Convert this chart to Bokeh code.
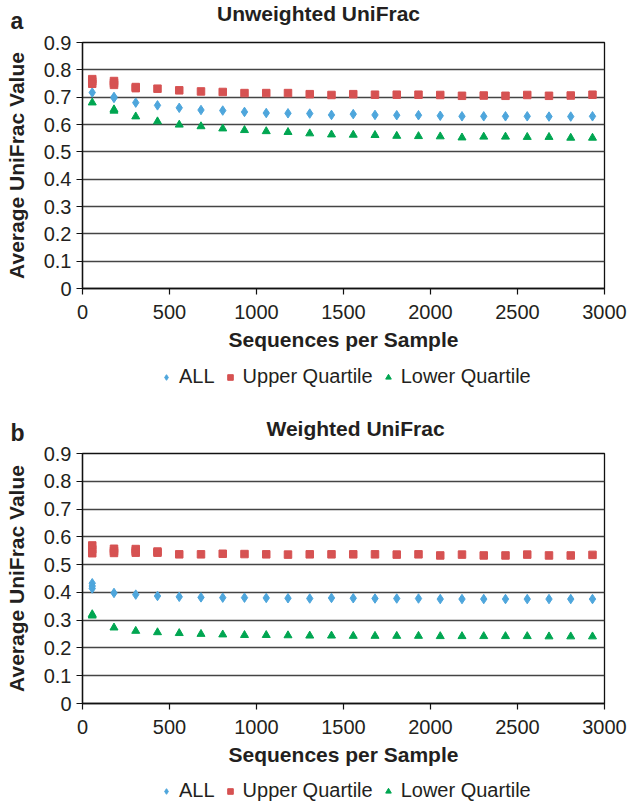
from bokeh.plotting import figure
from bokeh.models import FixedTicker, Legend, LegendItem, Label, Range1d
from bokeh.layouts import column
from bokeh.embed import file_html
from bokeh.resources import INLINE

# ---------------- data ----------------
seq_per_sample = [56, 181, 306, 431, 556, 681, 806, 931, 1056, 1181, 1306, 1431,
                  1556, 1681, 1806, 1931, 2056, 2181, 2306, 2431, 2556, 2681, 2806, 2931]

x_ticks = [0, 500, 1000, 1500, 2000, 2500, 3000]
y_ticks = [0, 0.1, 0.2, 0.3, 0.4, 0.5, 0.6, 0.7, 0.8, 0.9]
y_tick_labels = ["0", "0.1", "0.2", "0.3", "0.4", "0.5", "0.6", "0.7", "0.8", "0.9"]

series_names = ["ALL", "Upper Quartile", "Lower Quartile"]

# Panel a: Unweighted UniFrac
unw_all = [0.717, 0.701, 0.680, 0.670, 0.661, 0.653, 0.651, 0.646, 0.642, 0.641, 0.640, 0.635,
           0.638, 0.635, 0.634, 0.634, 0.632, 0.630, 0.630, 0.630, 0.630, 0.629, 0.629, 0.630]
unw_upper = [0.758, 0.752, 0.733, 0.731, 0.725, 0.721, 0.719, 0.715, 0.715, 0.715, 0.711, 0.708,
             0.711, 0.709, 0.709, 0.709, 0.708, 0.705, 0.706, 0.705, 0.708, 0.705, 0.706, 0.709]
unw_lower = [0.680, 0.655, 0.629, 0.611, 0.599, 0.593, 0.585, 0.579, 0.575, 0.572, 0.567, 0.563,
             0.562, 0.561, 0.558, 0.557, 0.556, 0.552, 0.555, 0.555, 0.554, 0.554, 0.551, 0.551]
# extra replicate values visible at the smallest depths
unw_upper_rep_x = [56, 56, 181, 181, 306]
unw_upper_rep_y = [0.766, 0.749, 0.759, 0.745, 0.737]
unw_all_rep_x = [181]
unw_all_rep_y = [0.697]
unw_lower_rep_x = [181]
unw_lower_rep_y = [0.650]

# Panel b: Weighted UniFrac
w_all = [0.423, 0.398, 0.392, 0.387, 0.384, 0.382, 0.381, 0.381, 0.380, 0.379, 0.378, 0.380,
         0.379, 0.378, 0.378, 0.378, 0.376, 0.376, 0.376, 0.376, 0.376, 0.376, 0.376, 0.376]
w_upper = [0.555, 0.549, 0.549, 0.543, 0.537, 0.537, 0.539, 0.538, 0.537, 0.536, 0.537, 0.537,
           0.537, 0.537, 0.536, 0.537, 0.533, 0.536, 0.533, 0.533, 0.536, 0.533, 0.533, 0.535]
w_lower = [0.321, 0.273, 0.261, 0.256, 0.253, 0.250, 0.248, 0.246, 0.246, 0.245, 0.244, 0.244,
           0.243, 0.243, 0.243, 0.243, 0.242, 0.242, 0.242, 0.242, 0.242, 0.241, 0.241, 0.241]
w_upper_rep_x = [56, 56, 181, 181, 306, 306, 431]
w_upper_rep_y = [0.569, 0.541, 0.557, 0.542, 0.556, 0.543, 0.547]
w_all_rep_x = [56, 56]
w_all_rep_y = [0.433, 0.414]
w_lower_rep_x = [56]
w_lower_rep_y = [0.316]

# ---------------- style ----------------
FONT = "Liberation Sans"
TXT = "#231f20"
BLUE = "#4ea6dc"
RED = "#d65252"
GREEN = "#00a651"
MARKERS = [("diamond", 9.5, BLUE), ("square", 7.5, RED), ("triangle", 8, GREEN)]
W = 630
BASE_FIX = 7  # baseline correction for header labels


def blank(height, y0=0):
    f = figure(width=W, height=height, x_range=Range1d(0, W), y_range=Range1d(y0, y0 + height),
               output_backend="svg", toolbar_location=None,
               min_border_left=0, min_border_right=0, min_border_top=0, min_border_bottom=0,
               x_axis_location=None, y_axis_location=None)
    try:
        f.frame_align = False
    except Exception:
        pass
    f.grid.visible = False
    f.outline_line_color = None
    f.background_fill_color = "white"
    f.border_fill_color = "white"
    return f


def header(height, letter, letter_x, letter_base, title, title_x, title_base):
    h = blank(height)
    h.add_layout(Label(x=letter_x, y=height - letter_base + BASE_FIX, text=letter,
                       text_font=FONT, text_font_size="23px", text_font_style="bold",
                       text_color=TXT, text_baseline="alphabetic", text_align="left"))
    h.add_layout(Label(x=title_x, y=height - title_base + BASE_FIX, text=title,
                       text_font=FONT, text_font_size="21px", text_font_style="bold",
                       text_color=TXT, text_baseline="alphabetic", text_align="center"))
    return h


def footer(height, lx, ly, series):
    # the legend row: same series, drawn outside this strip's visible range
    f = blank(height, y0=100)
    items = []
    for name, (mk, sz, col), vals in zip(series_names, MARKERS, series):
        r = f.scatter(seq_per_sample, vals, marker=mk, size=sz, fill_color=col, line_color=col)
        items.append(LegendItem(label=name, renderers=[r]))
    legend = Legend(items=items, orientation="horizontal", location=(lx, ly),
                    label_text_font=FONT, label_text_font_size="20px",
                    label_text_color=TXT, glyph_width=14, glyph_height=14,
                    label_standoff=6, spacing=8, padding=0, margin=0,
                    border_line_color=None, background_fill_alpha=0)
    f.add_layout(legend, "center")
    return f


def chart(series, reps, frame_h, top, bottom):
    p = figure(frame_width=522, frame_height=frame_h,
               x_range=Range1d(0, 3000), y_range=Range1d(0, 0.9),
               output_backend="svg", toolbar_location=None,
               min_border_left=82, min_border_right=W - 604, min_border_top=top,
               min_border_bottom=bottom)
    p.background_fill_color = "white"
    p.border_fill_color = "white"
    p.outline_line_color = "#111111"
    p.outline_line_width = 1.3

    p.xaxis.ticker = FixedTicker(ticks=x_ticks)
    p.yaxis.ticker = FixedTicker(ticks=y_ticks)
    p.yaxis.major_label_overrides = dict(zip(y_ticks, y_tick_labels))
    for ax in (p.xaxis[0], p.yaxis[0]):
        ax.axis_line_color = "#111111"
        ax.axis_line_width = 1.3
        ax.major_tick_line_color = "#111111"
        ax.major_tick_line_width = 1.2
        ax.major_tick_out = 6
        ax.major_tick_in = 0
        ax.minor_tick_line_color = None
        ax.major_label_text_font = FONT
        ax.major_label_text_font_size = "20px"
        ax.major_label_text_color = TXT
        ax.axis_label_text_font = FONT
        ax.axis_label_text_font_size = "21px"
        ax.axis_label_text_font_style = "bold"
        ax.axis_label_text_color = TXT
    p.xaxis.major_label_standoff = 10
    p.yaxis.major_label_standoff = 5
    p.xaxis.axis_label = "Sequences per Sample"
    p.yaxis.axis_label = "Average UniFrac Value"
    p.xaxis.axis_label_standoff = 6
    p.yaxis.axis_label_standoff = 13

    p.xgrid.visible = False
    p.ygrid.ticker = FixedTicker(ticks=y_ticks)
    p.ygrid.grid_line_color = "#444444"
    p.ygrid.grid_line_width = 1.3

    for (mk, sz, col), vals, (rx, ry) in zip(MARKERS, series, reps):
        p.scatter(seq_per_sample, vals, marker=mk, size=sz, fill_color=col, line_color=col)
        p.scatter(rx, ry, marker=mk, size=sz, fill_color=col, line_color=col)
    return p


series_a = [unw_all, unw_upper, unw_lower]
series_b = [w_all, w_upper, w_lower]

hdr_a = header(33, "a", 10, 27, "Unweighted UniFrac", 318, 20)
chart_a = chart(series_a,
                [(unw_all_rep_x, unw_all_rep_y), (unw_upper_rep_x, unw_upper_rep_y),
                 (unw_lower_rep_x, unw_lower_rep_y)], 246, 9, 70)
ftr_a = footer(47, 159, 17, series_a)
hdr_b = header(39, "b", 10, 34, "Weighted UniFrac", 355, 30)
chart_b = chart(series_b,
                [(w_all_rep_x, w_all_rep_y), (w_upper_rep_x, w_upper_rep_y),
                 (w_lower_rep_x, w_lower_rep_y)], 250, 9, 70)
ftr_b = footer(32, 159, 3, series_b)

layout = column(hdr_a, chart_a, ftr_a, hdr_b, chart_b, ftr_b, spacing=0)
open("out.html", "w").write(file_html(layout, INLINE))
